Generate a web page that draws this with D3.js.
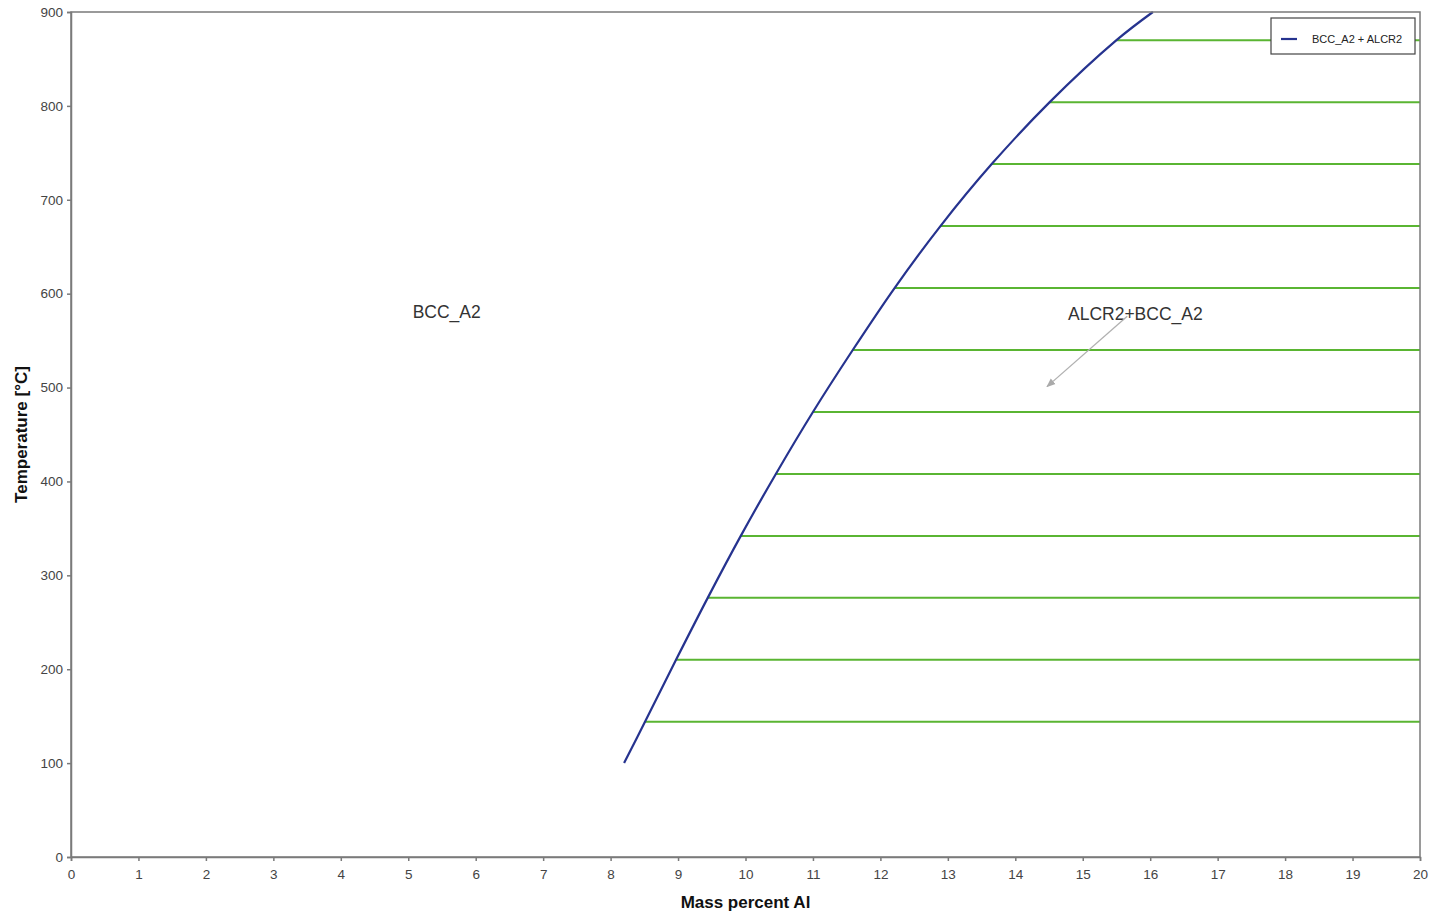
<!DOCTYPE html>
<html><head><meta charset="utf-8">
<script src="https://cdn.jsdelivr.net/npm/d3@7"></script>
<style>body{margin:0;background:#fff;} svg{display:block;font-family:"Liberation Sans",Arial,sans-serif;}</style>
</head><body>
<svg id="c" width="1439" height="913"></svg>
<script>
// Phase boundary BCC_A2 / BCC_A2+ALCR2
const boundaryT = [100, 144, 210, 276, 342, 408, 474, 540, 606, 672, 738, 804, 870, 900];
const boundaryX = [8.20, 8.51, 8.97, 9.44, 9.93, 10.45, 11.00, 11.59, 12.21, 12.89, 13.65, 14.51, 15.50, 16.04];
// Tie lines (temperature, start composition on boundary, end composition)
const tieT = [144, 210, 276, 342, 408, 474, 540, 606, 672, 738, 804, 870];
const tieStart = [8.51, 8.97, 9.44, 9.93, 10.45, 11.00, 11.59, 12.21, 12.89, 13.65, 14.51, 15.50];
const tieEnd = [20, 20, 20, 20, 20, 20, 20, 20, 20, 20, 20, 20];
const xTicks = d3.range(0, 21, 1);
const yTicks = d3.range(0, 901, 100);
const legendLabels = ["BCC_A2 + ALCR2"];
const regionLabels = [{text: "BCC_A2", x: 5.57, t: 574}, {text: "ALCR2+BCC_A2", x: 15.78, t: 572}];
const arrowFrom = [15.66, 576], arrowTo = [14.47, 501];

const svg = d3.select("#c");
const L = 71, R = 1420, T = 12, B = 857;
const x = d3.scaleLinear().domain([0, 20]).range([L, R]);
const y = d3.scaleLinear().domain([0, 900]).range([B, T]);
const axisCol = "#7a7a7a", textCol = "#444";

// tie lines
const tie = tieT.map((t, i) => ({t, a: tieStart[i], b: tieEnd[i]}));
svg.append("g").selectAll("line").data(tie).join("line")
  .attr("x1", d => x(d.a)).attr("x2", d => x(d.b))
  .attr("y1", d => y(d.t)).attr("y2", d => y(d.t))
  .attr("stroke", "#5ab532").attr("stroke-width", 2);

// boundary
const pts = boundaryT.map((t, i) => [boundaryX[i], t]);
svg.append("path").datum(pts)
  .attr("d", d3.line().x(d => x(d[0])).y(d => y(d[1])).curve(d3.curveCatmullRom))
  .attr("fill", "none").attr("stroke", "#26338f").attr("stroke-width", 2.2);

// frame
svg.append("rect").attr("x", L).attr("y", T).attr("width", R - L).attr("height", B - T)
  .attr("fill", "none").attr("stroke", axisCol).attr("stroke-width", 1.5);

// axes
const xa = svg.append("g").attr("transform", `translate(0,${B})`)
  .call(d3.axisBottom(x).tickValues(xTicks).tickSize(4).tickPadding(8).tickFormat(d3.format("d")));
const ya = svg.append("g").attr("transform", `translate(${L},0)`)
  .call(d3.axisLeft(y).tickValues(yTicks).tickSize(4).tickPadding(4).tickFormat(d3.format("d")));
[xa, ya].forEach(g => {
  g.select(".domain").attr("stroke", axisCol).attr("stroke-width", 1.5);
  g.selectAll(".tick line").attr("stroke", axisCol).attr("stroke-width", 1.5);
  g.selectAll(".tick text").attr("fill", textCol).attr("font-size", 13.5)
    .attr("font-family", "'Liberation Sans',Arial,sans-serif");
});

// axis titles
svg.append("text").attr("x", (L + R) / 2).attr("y", 908).attr("text-anchor", "middle")
  .attr("font-size", 17).attr("font-weight", "bold").attr("fill", "#111").text("Mass percent Al");
svg.append("text").attr("transform", `translate(27,${(T + B) / 2}) rotate(-90)`).attr("text-anchor", "middle")
  .attr("font-size", 17).attr("font-weight", "bold").attr("fill", "#111").text("Temperature [°C]");

// region labels
svg.append("g").selectAll("text").data(regionLabels).join("text")
  .attr("x", d => x(d.x)).attr("y", d => y(d.t)).attr("text-anchor", "middle")
  .attr("font-size", 17.5).attr("fill", "#333").text(d => d.text);

// arrow
svg.append("defs").append("marker").attr("id", "ah").attr("viewBox", "0 0 10 10")
  .attr("refX", 9).attr("refY", 5).attr("markerWidth", 7).attr("markerHeight", 7).attr("orient", "auto")
  .append("path").attr("d", "M0,1 L10,5 L0,9 Z").attr("fill", "#aaa");
svg.append("line").attr("x1", x(arrowFrom[0])).attr("y1", y(arrowFrom[1]))
  .attr("x2", x(arrowTo[0])).attr("y2", y(arrowTo[1]))
  .attr("stroke", "#b0b0b0").attr("stroke-width", 1.3).attr("marker-end", "url(#ah)");

// legend
const lg = svg.append("g").attr("transform", "translate(1271,18)");
lg.append("rect").attr("width", 144).attr("height", 36).attr("fill", "#fff")
  .attr("stroke", "#444").attr("stroke-width", 1.2);
legendLabels.forEach((lab, i) => {
  lg.append("line").attr("x1", 10).attr("x2", 26).attr("y1", 21 + i * 18).attr("y2", 21 + i * 18)
    .attr("stroke", "#26338f").attr("stroke-width", 2.2);
  lg.append("text").attr("x", 41).attr("y", 25 + i * 18).attr("font-size", 11).attr("fill", "#222").text(lab);
});
</script>
</body></html>
